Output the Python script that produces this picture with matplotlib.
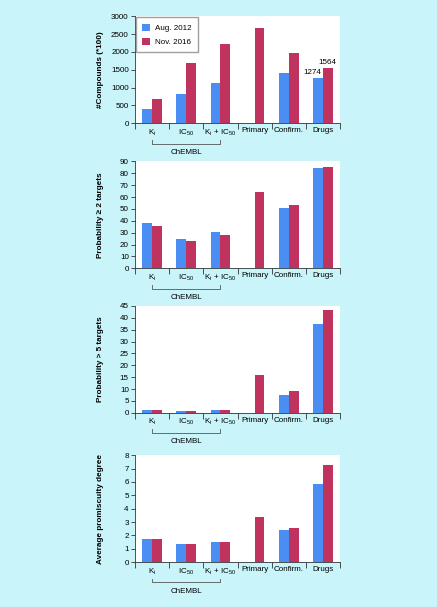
import numpy as np
import matplotlib
matplotlib.use('Agg')
import matplotlib.pyplot as plt

plt.rcParams['font.family'] = ['Liberation Sans', 'DejaVu Sans']
plt.rcParams['mathtext.fontset'] = 'custom'
plt.rcParams['mathtext.rm'] = 'Liberation Sans'

categories = [r'K$_\mathregular{i}$', r'IC$_\mathregular{50}$', r'K$_\mathregular{i}$ + IC$_\mathregular{50}$',
              'Primary', 'Confirm.', 'Drugs']
series = ['Aug. 2012', 'Nov. 2016']

compounds_2012 = [390, 815, 1120, 0, 1400, 1274]
compounds_2016 = [680, 1690, 2220, 2660, 1960, 1564]
prob2_2012 = [38.1, 24.8, 30.2, 0, 50.8, 84.1]
prob2_2016 = [35.5, 22.9, 27.9, 64.0, 53.0, 85.5]
prob5_2012 = [1.2, 0.9, 1.2, 0, 7.6, 37.3]
prob5_2016 = [1.2, 0.9, 1.2, 15.9, 9.1, 43.2]
degree_2012 = [1.7, 1.38, 1.5, 0, 2.43, 5.85]
degree_2016 = [1.7, 1.38, 1.5, 3.4, 2.58, 7.25]

panels = [
    (compounds_2012, compounds_2016, '#Compounds (*100)', 3000, 500),
    (prob2_2012, prob2_2016, 'Probability \u2265 2 targets', 90, 10),
    (prob5_2012, prob5_2016, 'Probability > 5 targets', 45, 5),
    (degree_2012, degree_2016, 'Average promiscuity degree', 8, 1),
]

blue = '#4a8ef4'
red = '#bf335e'
bg = '#c8f4fa'
fs = 5.8

fig = plt.figure(figsize=(4.37, 6.07), dpi=100, facecolor=bg)
bottoms = [0.797, 0.558, 0.320, 0.074]
x = np.arange(len(categories))
w = 0.29

for (v1, v2, ylab, ymax, ystep), b in zip(panels, bottoms):
    ax = fig.add_axes([0.309, b, 0.469, 0.176])
    ax.bar(x - w/2, v1, w, color=blue, label=series[0])
    ax.bar(x + w/2, v2, w, color=red, label=series[1])
    ax.set_xlim(-0.5, 5.5)
    ax.set_ylim(0, ymax)
    ax.set_yticks(np.arange(0, ymax + ystep/2, ystep))
    ax.set_xticks(np.arange(-0.5, 6, 1))
    ax.set_xticklabels([])
    ax.set_xticks(x, minor=True)
    ax.set_xticklabels(categories, minor=True)
    ax.tick_params(axis='x', which='minor', length=0, labelsize=fs, pad=3)
    ax.tick_params(axis='x', which='major', length=4, width=0.6, color='#333333')
    ax.tick_params(axis='y', length=3, width=0.6, labelsize=fs, pad=1.5, color='#333333')
    for s in ['top', 'right']:
        ax.spines[s].set_visible(False)
    for s in ['left', 'bottom']:
        ax.spines[s].set_linewidth(0.6)
        ax.spines[s].set_color('#333333')
    ax.set_ylabel(ylab, fontsize=5.9, fontweight='bold')
    ax.yaxis.set_label_coords(-0.15, 0.5)

    # ChEMBL bracket
    yb = -0.19
    ax.plot([0, 0, 2, 2], [yb + 0.035, yb, yb, yb + 0.035], transform=ax.get_xaxis_transform(),
            color='#555555', lw=0.6, clip_on=False)
    ax.text(1, -0.24, 'ChEMBL', transform=ax.get_xaxis_transform(), ha='center', va='top', fontsize=fs)

    if ylab.startswith('#'):
        ax.legend(loc='upper left', fontsize=fs, frameon=True, fancybox=False, edgecolor='#888888',
                  handlelength=1.0, handleheight=1.0, borderpad=0.8, labelspacing=0.7,
                  handletextpad=0.6, borderaxespad=0.1)
        ax.text(x[5] - w/2 - 0.17, v1[5] + 40, str(v1[5]), ha='center', va='bottom', fontsize=fs)
        ax.text(x[5] + w/2, v2[5] + 40, str(v2[5]), ha='center', va='bottom', fontsize=fs)

fig.savefig('out.png', dpi=100, facecolor=bg)
